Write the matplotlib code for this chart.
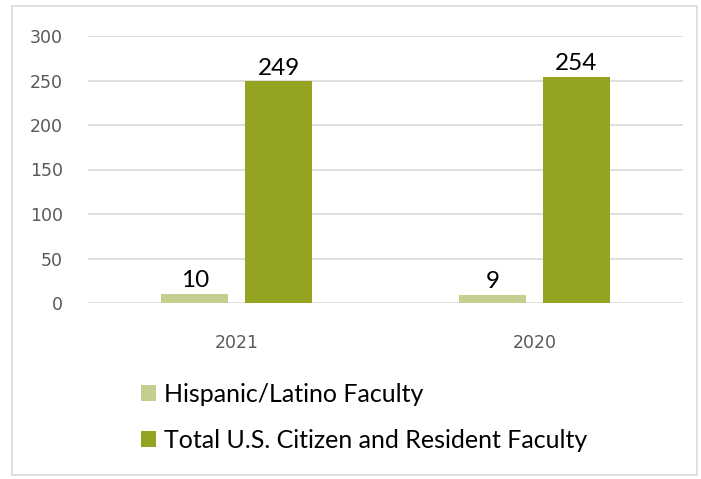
import matplotlib
matplotlib.use("Agg")
import matplotlib.pyplot as plt
from matplotlib.patches import Rectangle
import numpy as np

categories = ["2021", "2020"]
hispanic = [10, 9]
total = [249, 254]
series_names = ["Hispanic/Latino Faculty", "Total U.S. Citizen and Resident Faculty"]
yticks = [0, 50, 100, 150, 200, 250, 300]

c_light = "#c3cf8f"
c_dark = "#95a323"

plt.rcParams['font.family'] = ['Lato', 'DejaVu Sans']

W, H = 701, 479
fig = plt.figure(figsize=(W/100, H/100), dpi=100)
# outer border
fig.patches.append(Rectangle((12/W, 1 - 475/H), (697-12)/W, (475-6)/H,
                             transform=fig.transFigure, fill=False,
                             edgecolor="#d9d9d9", linewidth=1.2))

left, right, top, bottom = 88, 683, 36, 303
ax = fig.add_axes([left/W, 1 - bottom/H, (right-left)/W, (bottom-top)/H])

x = np.arange(len(categories))
w = 0.225
off = 0.141
b1 = ax.bar(x - off, hispanic, w, color=c_light, label=series_names[0], zorder=3)
b2 = ax.bar(x + off, total, w, color=c_dark, label=series_names[1], zorder=3)

for bars, vals in ((b1, hispanic), (b2, total)):
    for r, v in zip(bars, vals):
        ax.annotate(str(v), (r.get_x() + r.get_width()/2, v), xytext=(0, 2),
                    textcoords="offset points", ha="center", va="bottom",
                    fontsize=17.5, color="#000000")

ax.set_xlim(-0.5, len(categories) - 0.5)
ax.set_ylim(0, 300)
ax.set_yticks(yticks)
ax.set_xticks(x)
ax.set_xticklabels(categories)
ax.grid(axis="y", color="#d9d9d9", linewidth=1.2, zorder=0)
for s in ax.spines.values():
    s.set_visible(False)
ax.tick_params(axis="both", length=0, labelsize=12.5, colors="#595959")
for lab in ax.get_xticklabels() + ax.get_yticklabels():
    lab.set_family("DejaVu Sans")
ax.tick_params(axis="y", pad=18)
ax.tick_params(axis="x", pad=22)

leg = fig.legend(handles=[b1, b2], loc="upper left",
                 bbox_to_anchor=(141/W, 1 - 383/H), frameon=False,
                 fontsize=18, handlelength=0.6, handleheight=0.6,
                 handletextpad=0.3, labelspacing=0.92,
                 borderpad=0, borderaxespad=0)

fig.savefig("out.png", dpi=100)
